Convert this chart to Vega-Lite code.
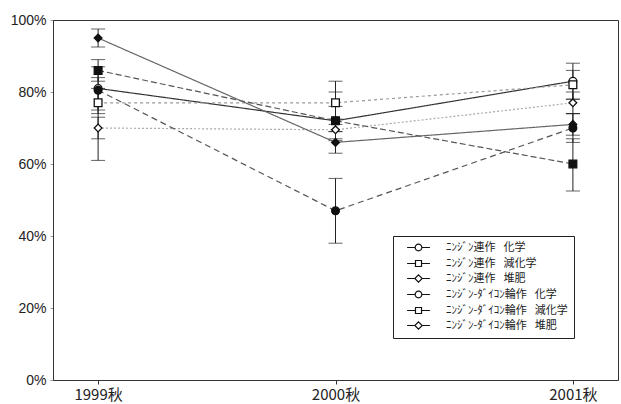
{
  "$schema": "https://vega.github.io/schema/vega-lite/v6.json",
  "width": 565,
  "height": 360,
  "autosize": "none",
  "padding": {"left": 53, "top": 20, "right": 3, "bottom": 24},
  "background": "white",
  "config": {
    "view": {"stroke": "#333", "strokeWidth": 1},
    "font": "Liberation Sans",
    "legend": {
      "orient": "none", "legendX": 340, "legendY": 216,
      "strokeColor": "#222", "fillColor": "white", "padding": 6,
      "labelFont": "Noto Sans CJK JP", "labelFontSize": 11, "labelColor": "#222",
      "symbolSize": 45, "rowPadding": 3, "labelLimit": 240, "symbolStrokeWidth": 1.2,
      "symbolOffset": 14, "labelOffset": 22
    }
  },
  "resolve": {
    "scale": {"shape": "independent"},
    "legend": {"color": "independent", "strokeDash": "independent", "shape": "independent", "fill": "independent"}
  },
  "data": {
    "values": [
      {"s": "ﾆﾝｼﾞﾝ連作 化学", "t": "1999秋", "v": 81, "lo": 75, "hi": 87},
      {"s": "ﾆﾝｼﾞﾝ連作 化学", "t": "2000秋", "v": 72, "lo": 67, "hi": 80},
      {"s": "ﾆﾝｼﾞﾝ連作 化学", "t": "2001秋", "v": 83, "lo": 78, "hi": 88},
      {"s": "ﾆﾝｼﾞﾝ連作 減化学", "t": "1999秋", "v": 77, "lo": 74, "hi": 81},
      {"s": "ﾆﾝｼﾞﾝ連作 減化学", "t": "2000秋", "v": 77, "lo": 71, "hi": 83},
      {"s": "ﾆﾝｼﾞﾝ連作 減化学", "t": "2001秋", "v": 82, "lo": 78, "hi": 86},
      {"s": "ﾆﾝｼﾞﾝ連作 堆肥", "t": "1999秋", "v": 70, "lo": 67, "hi": 73},
      {"s": "ﾆﾝｼﾞﾝ連作 堆肥", "t": "2000秋", "v": 69.5, "lo": 66.5, "hi": 72.5},
      {"s": "ﾆﾝｼﾞﾝ連作 堆肥", "t": "2001秋", "v": 77, "lo": 74, "hi": 80},
      {"s": "ﾆﾝｼﾞﾝ-ﾀﾞｲｺﾝ輪作 化学", "t": "1999秋", "v": 80.5, "lo": 61, "hi": 84},
      {"s": "ﾆﾝｼﾞﾝ-ﾀﾞｲｺﾝ輪作 化学", "t": "2000秋", "v": 47, "lo": 38, "hi": 56},
      {"s": "ﾆﾝｼﾞﾝ-ﾀﾞｲｺﾝ輪作 化学", "t": "2001秋", "v": 70, "lo": 66, "hi": 74},
      {"s": "ﾆﾝｼﾞﾝ-ﾀﾞｲｺﾝ輪作 減化学", "t": "1999秋", "v": 86, "lo": 83, "hi": 89},
      {"s": "ﾆﾝｼﾞﾝ-ﾀﾞｲｺﾝ輪作 減化学", "t": "2000秋", "v": 72, "lo": 69, "hi": 76},
      {"s": "ﾆﾝｼﾞﾝ-ﾀﾞｲｺﾝ輪作 減化学", "t": "2001秋", "v": 60, "lo": 52.5, "hi": 67},
      {"s": "ﾆﾝｼﾞﾝ-ﾀﾞｲｺﾝ輪作 堆肥", "t": "1999秋", "v": 95, "lo": 92.5, "hi": 97.5},
      {"s": "ﾆﾝｼﾞﾝ-ﾀﾞｲｺﾝ輪作 堆肥", "t": "2000秋", "v": 66, "lo": 63, "hi": 69},
      {"s": "ﾆﾝｼﾞﾝ-ﾀﾞｲｺﾝ輪作 堆肥", "t": "2001秋", "v": 71, "lo": 68, "hi": 74}
    ]
  },
  "encoding": {
    "x": {
      "field": "t", "type": "ordinal",
      "scale": {"type": "point", "padding": 0.19},
      "axis": {"title": null, "labelAngle": 0, "labelFont": "Noto Sans CJK JP", "labelFontSize": 15, "labelColor": "#222", "domainColor": "#333", "tickColor": "#333", "tickSize": 4, "labelPadding": 3}
    }
  },
  "layer": [
    {
      "mark": {"type": "rule", "color": "#222", "strokeWidth": 1},
      "encoding": {
        "y": {"field": "lo", "type": "quantitative"},
        "y2": {"field": "hi"}
      }
    },
    {
      "mark": {"type": "tick", "color": "#222", "size": 14, "thickness": 1},
      "encoding": {"y": {"field": "lo", "type": "quantitative"}}
    },
    {
      "mark": {"type": "tick", "color": "#222", "size": 14, "thickness": 1},
      "encoding": {"y": {"field": "hi", "type": "quantitative"}}
    },
    {
      "mark": {"type": "line", "strokeWidth": 1.2},
      "encoding": {
        "y": {"field": "v", "type": "quantitative"},
        "detail": {"field": "s"},
        "color": {
          "field": "s", "type": "nominal", "legend": null,
          "scale": {
            "domain": ["ﾆﾝｼﾞﾝ連作 化学", "ﾆﾝｼﾞﾝ連作 減化学", "ﾆﾝｼﾞﾝ連作 堆肥", "ﾆﾝｼﾞﾝ-ﾀﾞｲｺﾝ輪作 化学", "ﾆﾝｼﾞﾝ-ﾀﾞｲｺﾝ輪作 減化学", "ﾆﾝｼﾞﾝ-ﾀﾞｲｺﾝ輪作 堆肥"],
            "range": ["#333333", "#999999", "#aaaaaa", "#555555", "#555555", "#666666"]
          }
        },
        "strokeDash": {
          "field": "s", "type": "nominal", "legend": null,
          "scale": {
            "domain": ["ﾆﾝｼﾞﾝ連作 化学", "ﾆﾝｼﾞﾝ連作 減化学", "ﾆﾝｼﾞﾝ連作 堆肥", "ﾆﾝｼﾞﾝ-ﾀﾞｲｺﾝ輪作 化学", "ﾆﾝｼﾞﾝ-ﾀﾞｲｺﾝ輪作 減化学", "ﾆﾝｼﾞﾝ-ﾀﾞｲｺﾝ輪作 堆肥"],
            "range": [[1, 0], [3, 3], [2, 2], [6, 4], [6, 3], [1, 0]]
          }
        }
      }
    },
    {
      "mark": {"type": "point", "size": 60, "stroke": "#111", "strokeWidth": 1.3, "opacity": 1, "filled": false},
      "encoding": {
        "y": {
          "field": "v", "type": "quantitative",
          "scale": {"domain": [0, 100], "nice": false},
          "axis": {"title": null, "values": [0, 20, 40, 60, 80, 100], "labelExpr": "datum.value + '%'", "labelFontSize": 14, "labelColor": "#222", "grid": false, "domainColor": "#333", "tickColor": "#999", "tickSize": 3, "labelPadding": 4}
        },
        "shape": {
          "field": "s", "type": "nominal", "legend": null,
          "scale": {
            "domain": ["ﾆﾝｼﾞﾝ連作 化学", "ﾆﾝｼﾞﾝ連作 減化学", "ﾆﾝｼﾞﾝ連作 堆肥", "ﾆﾝｼﾞﾝ-ﾀﾞｲｺﾝ輪作 化学", "ﾆﾝｼﾞﾝ-ﾀﾞｲｺﾝ輪作 減化学", "ﾆﾝｼﾞﾝ-ﾀﾞｲｺﾝ輪作 堆肥"],
            "range": ["circle", "square", "diamond", "circle", "square", "diamond"]
          }
        },
        "fill": {
          "field": "s", "type": "nominal", "legend": null,
          "scale": {
            "domain": ["ﾆﾝｼﾞﾝ連作 化学", "ﾆﾝｼﾞﾝ連作 減化学", "ﾆﾝｼﾞﾝ連作 堆肥", "ﾆﾝｼﾞﾝ-ﾀﾞｲｺﾝ輪作 化学", "ﾆﾝｼﾞﾝ-ﾀﾞｲｺﾝ輪作 減化学", "ﾆﾝｼﾞﾝ-ﾀﾞｲｺﾝ輪作 堆肥"],
            "range": ["white", "white", "white", "#111", "#111", "#111"]
          }
        }
      }
    },
    {
      "mark": {"type": "point", "size": 60, "stroke": "#111", "strokeWidth": 1.2, "opacity": 0, "filled": false},
      "encoding": {
        "y": {"field": "v", "type": "quantitative"},
        "shape": {
          "field": "s", "type": "nominal",
          "scale": {
            "domain": ["ﾆﾝｼﾞﾝ連作 化学", "ﾆﾝｼﾞﾝ連作 減化学", "ﾆﾝｼﾞﾝ連作 堆肥", "ﾆﾝｼﾞﾝ-ﾀﾞｲｺﾝ輪作 化学", "ﾆﾝｼﾞﾝ-ﾀﾞｲｺﾝ輪作 減化学", "ﾆﾝｼﾞﾝ-ﾀﾞｲｺﾝ輪作 堆肥"],
            "range": [
              "M-3.4,0H-1M1,0H3.4M-1,0A1,1 0 1,0 1,0A1,1 0 1,0 -1,0Z",
              "M-3.4,0H-0.9M0.9,0H3.4M-0.9,-0.9H0.9V0.9H-0.9Z",
              "M-3.4,0H-1.1M1.1,0H3.4M0,-1.1L1.1,0L0,1.1L-1.1,0Z",
              "M-3.4,0H-1M1,0H3.4M-1,0A1,1 0 1,0 1,0A1,1 0 1,0 -1,0Z",
              "M-3.4,0H-0.9M0.9,0H3.4M-0.9,-0.9H0.9V0.9H-0.9Z",
              "M-3.4,0H-1.1M1.1,0H3.4M0,-1.1L1.1,0L0,1.1L-1.1,0Z"
            ]
          },
          "legend": {
            "title": null,
            "labelExpr": "replace(datum.label, ' ', '\u2002 ')",
            "encode": {
              "symbols": {
                "update": {
                  "stroke": {"value": "#111"},
                  "strokeWidth": {"value": 1.2},
                  "opacity": {"value": 1}
                }
              }
            }
          }
        },
        "fill": {
          "field": "s", "type": "nominal",
          "legend": {
            "title": null,
            "labelExpr": "replace(datum.label, ' ', '\u2002 ')",
            "encode": {
              "symbols": {
                "update": {
                  "stroke": {"value": "#111"},
                  "strokeWidth": {"value": 1.2},
                  "opacity": {"value": 1}
                }
              }
            }
          }
        }
      }
    }
  ]
}
